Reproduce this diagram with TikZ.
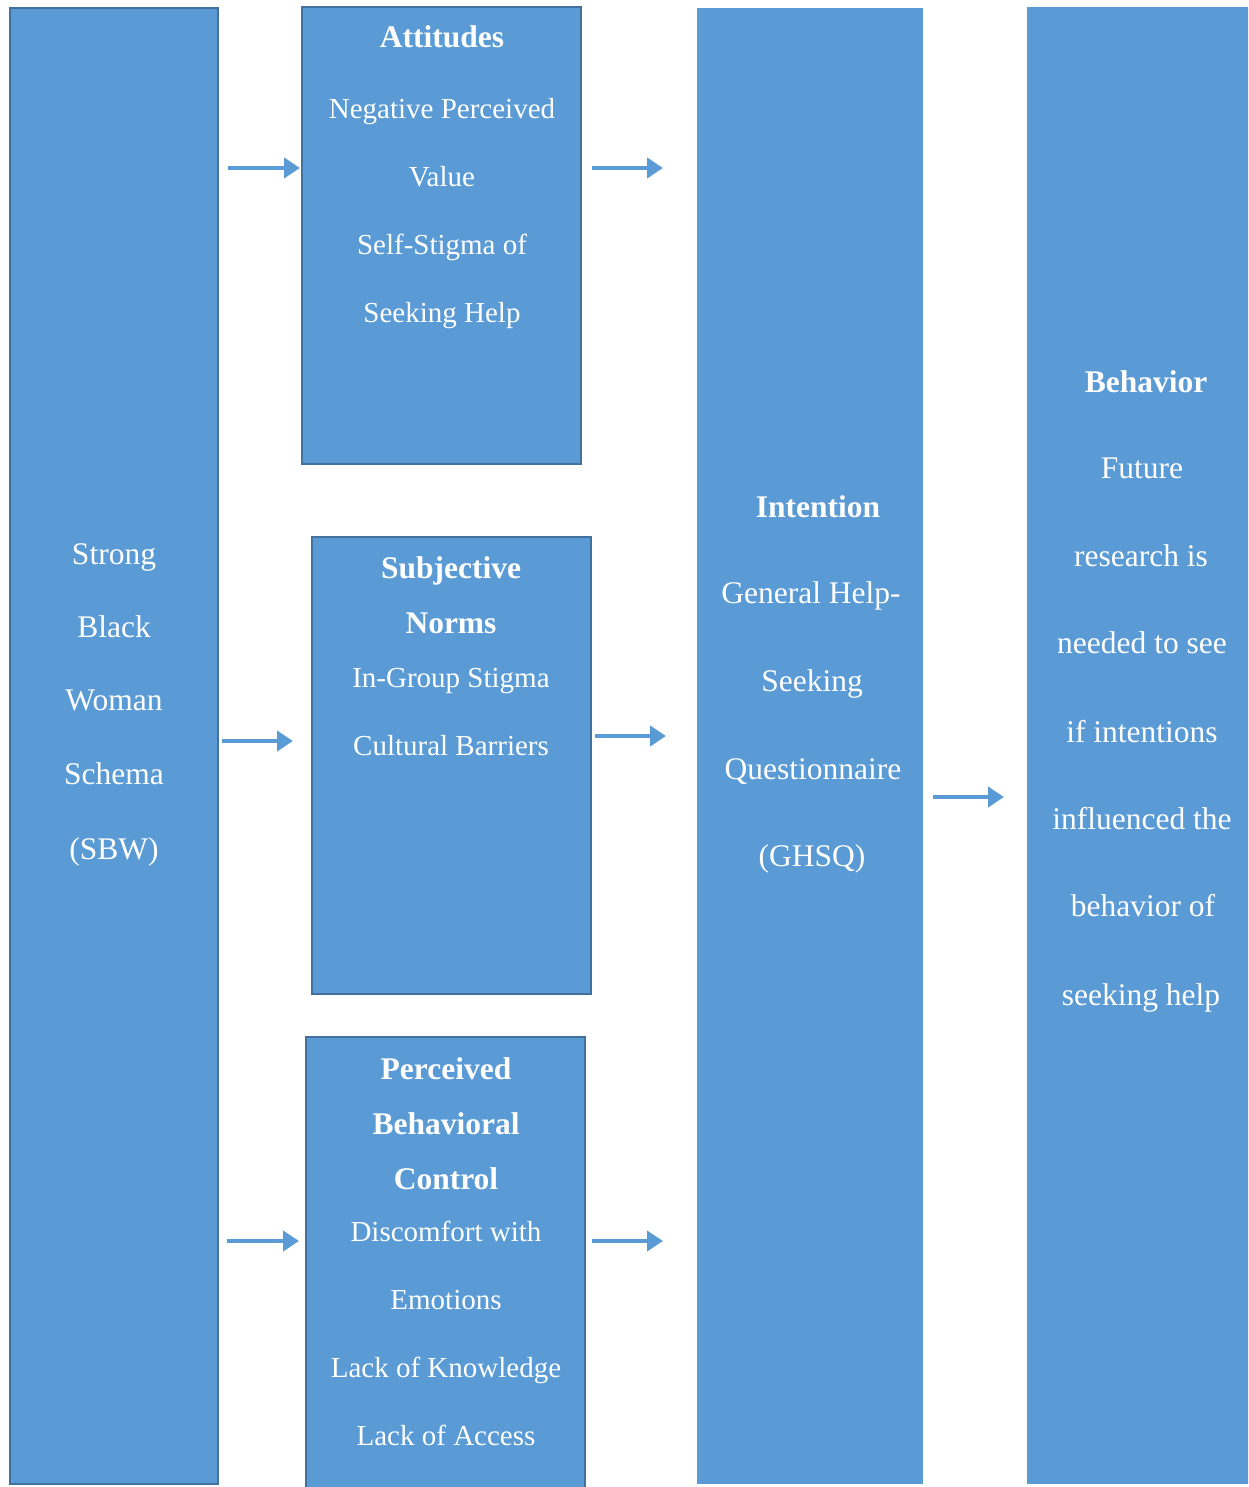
\documentclass[tikz,border=0pt]{standalone}
\usepackage{fontspec}
\setmainfont{Liberation Serif}
\usetikzlibrary{arrows.meta}
\definecolor{fillblue}{HTML}{5B9BD5}
\definecolor{edgeblue}{HTML}{41719C}
\tikzset{
  box/.style={fill=fillblue, draw=edgeblue, line width=2.5pt, anchor=north west, inner sep=0pt, outer sep=0pt},
  plainbox/.style={fill=fillblue, draw=none, anchor=north west, inner sep=0pt, outer sep=0pt},
  txt/.style={text=white, anchor=base, inner sep=0pt, yshift=-2pt, font=\fontsize{29}{29}\selectfont},
  bigtxt/.style={text=white, anchor=base, inner sep=0pt, yshift=-2pt, font=\fontsize{31.5}{31.5}\selectfont},
  head/.style={text=white, anchor=base, inner sep=0pt, yshift=-2pt, font=\fontsize{31.5}{31.5}\selectfont\bfseries},
  arr/.style={draw=fillblue, line width=4pt, -{Triangle[length=16pt,width=20pt]}}
}
\begin{document}
\begin{tikzpicture}[x=1pt,y=-1pt]
\clip (0,0) rectangle (1248,1487);
\fill[white] (0,0) rectangle (1248,1487);

% boxes
\node[box, minimum width=208pt, minimum height=1476pt] (sbw) at (10,8) {};
\node[box, minimum width=279pt, minimum height=457pt] (att) at (302,7) {};
\node[box, minimum width=279pt, minimum height=457pt] (sn) at (312,537) {};
\node[box, minimum width=279pt, minimum height=470pt] (pbc) at (306,1037) {};
\node[plainbox, minimum width=226pt, minimum height=1476pt] (int) at (697,8) {};
\node[plainbox, minimum width=240pt, minimum height=1477pt] (beh) at (1027,7) {};

% SBW text
\node[bigtxt] (s1) at (114,562) {Strong};
\node[bigtxt] (s2) at (114,635) {Black};
\node[bigtxt] (s3) at (114,708) {Woman};
\node[bigtxt] (s4) at (114,782) {Schema};
\node[bigtxt] (s5) at (114,857) {(SBW)};

% Attitudes
\node[head] (a0) at (442,46) {Attitudes};
\node[txt] (a1) at (442,117) {Negative Perceived};
\node[txt] (a2) at (442,185) {Value};
\node[txt] (a3) at (442,253) {Self-Stigma of};
\node[txt] (a4) at (442,321) {Seeking Help};

% Subjective norms
\node[head] (n0) at (451,576) {Subjective};
\node[head] (n1) at (451,631) {Norms};
\node[txt] (n2) at (451,685) {In-Group Stigma};
\node[txt] (n3) at (451,753) {Cultural Barriers};

% PBC
\node[head] (p0) at (446,1077) {Perceived};
\node[head] (p1) at (446,1132) {Behavioral};
\node[head] (p2) at (446,1187) {Control};
\node[txt] (p3) at (446,1239) {Discomfort with};
\node[txt] (p4) at (446,1307) {Emotions};
\node[txt] (p5) at (446,1375) {Lack of Knowledge};
\node[txt] (p6) at (446,1443) {Lack of Access};

% Intention
\node[head] (i0) at (818,515) {Intention};
\node[bigtxt] (i1) at (811,601) {General Help-};
\node[bigtxt] (i2) at (812,689) {Seeking};
\node[bigtxt] (i3) at (813,777) {Questionnaire};
\node[bigtxt] (i4) at (812,864) {(GHSQ)};

% Behavior
\node[head] (b0) at (1146,390) {Behavior};
\node[bigtxt] (b1) at (1142,476) {Future};
\node[bigtxt] (b2) at (1141,564) {research is};
\node[bigtxt] (b3) at (1142,651) {needed to see};
\node[bigtxt] (b4) at (1142,740) {if intentions};
\node[bigtxt] (b5) at (1142,827) {influenced the};
\node[bigtxt] (b6) at (1143,914) {behavior of};
\node[bigtxt] (b7) at (1141,1003) {seeking help};

% arrow end points
\coordinate (c1s) at (228,168); \coordinate (c1e) at (300,168);
\coordinate (c2s) at (592,168); \coordinate (c2e) at (663,168);
\coordinate (c3s) at (222,741); \coordinate (c3e) at (293,741);
\coordinate (c4s) at (595,736); \coordinate (c4e) at (666,736);
\coordinate (c5s) at (227,1241); \coordinate (c5e) at (299,1241);
\coordinate (c6s) at (592,1241); \coordinate (c6e) at (663,1241);
\coordinate (c7s) at (933,797); \coordinate (c7e) at (1004,797);

\draw[arr] (c1s) -- (c1e);
\draw[arr] (c2s) -- (c2e);
\draw[arr] (c3s) -- (c3e);
\draw[arr] (c4s) -- (c4e);
\draw[arr] (c5s) -- (c5e);
\draw[arr] (c6s) -- (c6e);
\draw[arr] (c7s) -- (c7e);
\end{tikzpicture}
\end{document}
